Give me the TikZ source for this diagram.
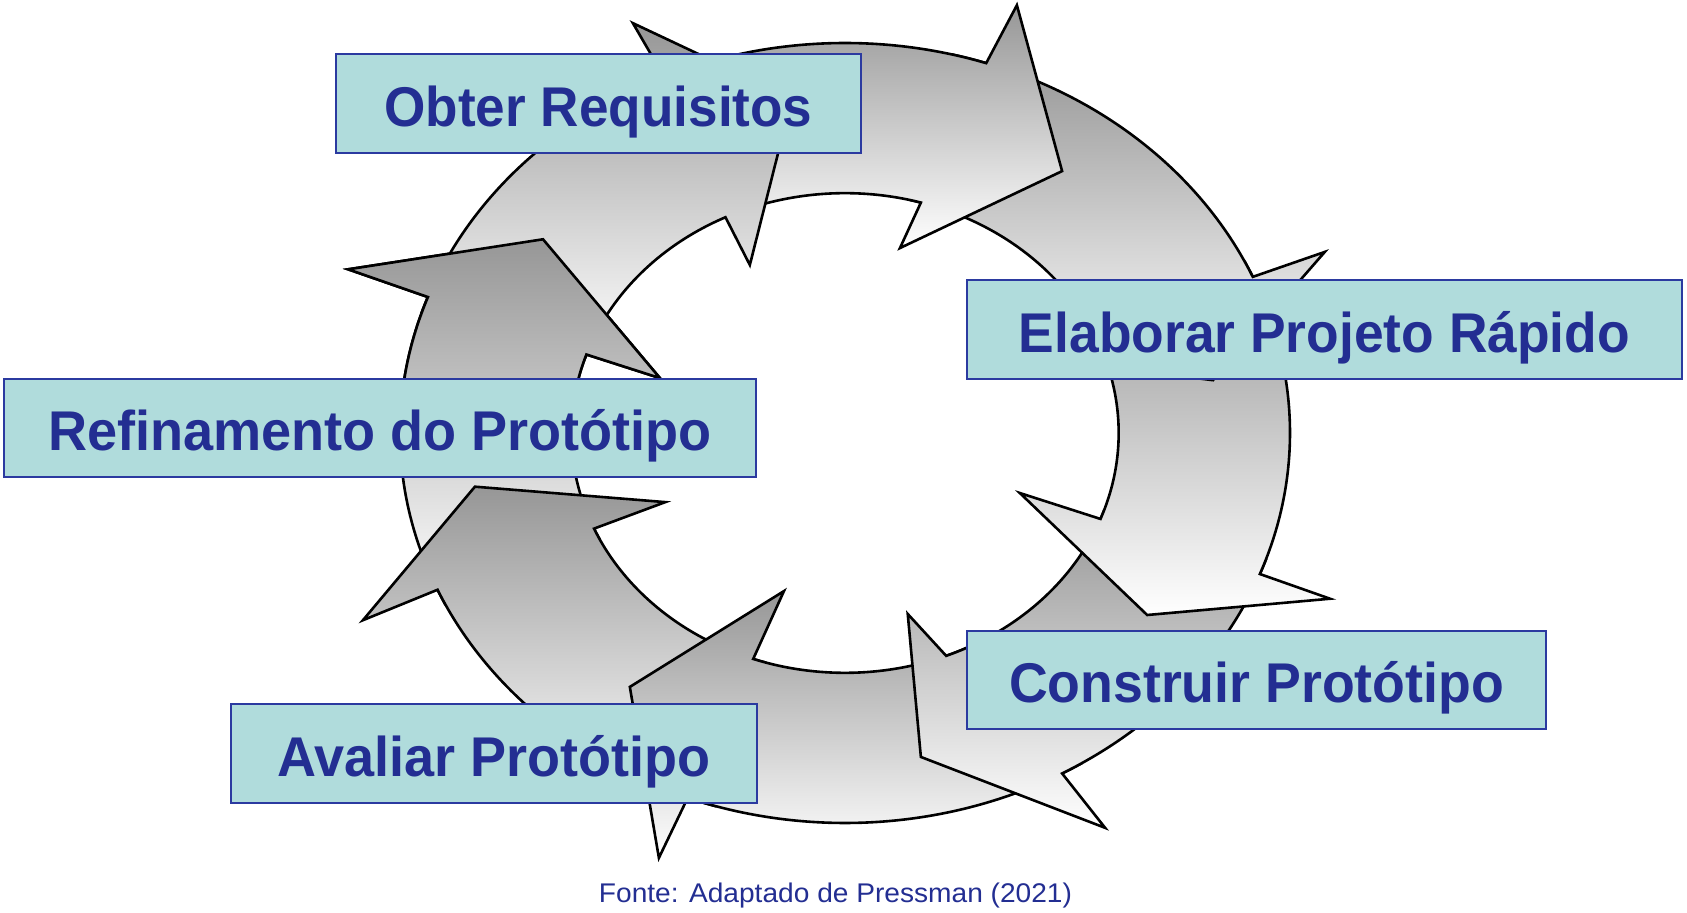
\documentclass[tikz,border=0pt]{standalone}
\usepackage{fontspec}
\setmainfont{Liberation Sans}
\usepackage{graphicx}
\definecolor{textblue}{RGB}{35,46,146}
\definecolor{boxblue}{RGB}{43,58,160}
\definecolor{boxfill}{RGB}{176,220,220}
% #1 tail angle, #2 outer junction, #3/#4 outer barb, #5/#6 tip, #7/#8 inner barb, #9 inner junction
\newcommand{\cyclearrow}[9]{%
  \path[arrowshape] (#1:1) arc[start angle=#1, end angle=#2, x radius=222.5pt, y radius=195pt]
    -- (#3:#4) -- (#5:#6) -- (#7:#8) -- (#9:0.615)
    arc[start angle=#9, end angle=#1, x radius=136.84pt, y radius=119.93pt] -- cycle;}
\begin{document}
\begin{tikzpicture}[x=0.5pt,y=-0.5pt,
  arrowshape/.style={draw=black, line width=1.3pt, line join=miter, top color=black!41, bottom color=white},
  labelbox/.style={draw=boxblue, line width=0.75pt, fill=boxfill, inner sep=0pt,
    text height=30pt, text depth=7pt, text=textblue,
    font=\fontsize{28}{30}\selectfont\bfseries},
  source/.style={font=\fontsize{13.5}{15}\selectfont, text=textblue, anchor=base, inner sep=0pt}]
\useasboundingbox (0,0) rectangle (1687,913);
\fill[white] (0,0) rectangle (1687,913);
\begin{scope}[shift={(845,433)}, x=222.5pt, y=195pt]
  \cyclearrow{206}{159.6}{159.4}{1.193}{143.8}{0.841}{161.3}{0.439}{160.9}% H
  \cyclearrow{-107}{-156.3}{-156.1}{1.185}{-170.6}{0.843}{-156.3}{0.441}{-156.5}% G
  \cyclearrow{-58}{-110.7}{-111}{1.167}{-126.6}{0.811}{-108.7}{0.428}{-109.6}% F
  \cyclearrow{-19}{-60.8}{-60}{1.169}{-78.4}{0.848}{-73.1}{0.485}{-68.3}% E
  \cyclearrow{26}{-21.2}{-21.3}{1.170}{-34.5}{0.824}{-21.4}{0.422}{-21}% D
  \cyclearrow{76}{23.6}{23.3}{1.174}{9.3}{0.838}{25.5}{0.45}{25}% C
  \cyclearrow{116}{71.5}{70.6}{1.163}{54}{0.830}{75.4}{0.490}{73.9}% B
  \cyclearrow{162}{114}{114.4}{1.154}{97.9}{0.867}{116.4}{0.481}{115.9}% A
  \begin{scope}
    \clip (0,0) -- (128:1.6) -- (152:1.6) -- (176:1.6) -- cycle;
    \cyclearrow{206}{159.6}{159.4}{1.193}{143.8}{0.841}{161.3}{0.439}{160.9}% H on top of A
  \end{scope}
\end{scope}
\node[labelbox, minimum width=262.5pt, minimum height=49.5pt] (obter) at (598.5,103.5)
  {\resizebox{214pt}{\height}{Obter Requisitos}};
\node[labelbox, minimum width=357.5pt, minimum height=49.5pt] (elaborar) at (1324.5,329.5)
  {\resizebox{305.5pt}{\height}{Elaborar Projeto Rápido}};
\node[labelbox, minimum width=376pt, minimum height=49pt] (refin) at (380,428)
  {\resizebox{332pt}{\height}{Refinamento do Protótipo}};
\node[labelbox, minimum width=289.5pt, minimum height=49pt] (construir) at (1256.5,680)
  {\resizebox{247.5pt}{\height}{Construir Protótipo}};
\node[labelbox, minimum width=263pt, minimum height=49.5pt] (avaliar) at (494,753.5)
  {\resizebox{216.5pt}{\height}{Avaliar Protótipo}};
\node[source] (fonte) at (835.5,902)
  {\resizebox{236.5pt}{\height}{Fonte: Adaptado de Pressman (2021)}};
\end{tikzpicture}
\end{document}
